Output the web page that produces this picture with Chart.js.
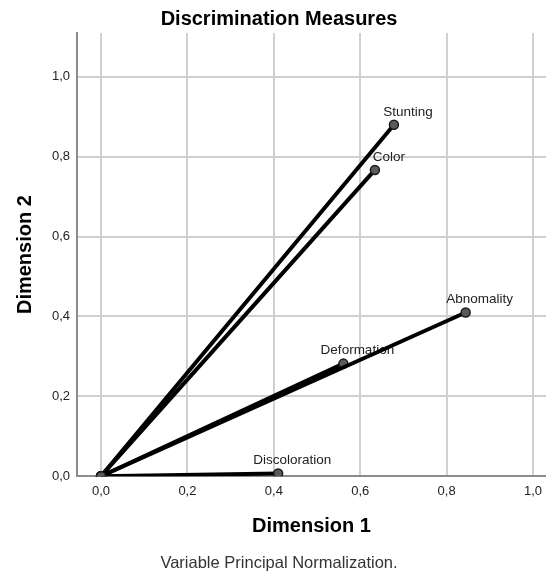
<!DOCTYPE html>
<html>
<head>
<meta charset="utf-8">
<script src="https://cdn.jsdelivr.net/npm/chart.js@4.4.0/dist/chart.umd.min.js"></script>
<style>
    html, body { margin: 0; padding: 0; background: #fff; overflow: hidden; }
    #chartBox { width: 546px; height: 573px; }
</style>
</head>
<body>
<div id="chartBox"><canvas id="discChart" width="546" height="573"></canvas></div>
<script>
// ========== DATA ==========
const variableNames = ['Stunting', 'Color', 'Abnomality', 'Deformation', 'Discoloration'];
const dimension1 = [0.678, 0.634, 0.844, 0.561, 0.410];
const dimension2 = [0.880, 0.767, 0.410, 0.282, 0.007];
const xTicks = [0, 0.2, 0.4, 0.6, 0.8, 1.0];
const yTicks = [0, 0.2, 0.4, 0.6, 0.8, 1.0];

const FONT = "'Liberation Sans', Arial, sans-serif";

// ========== HELPERS ==========
function formatTick(value) {
    return value.toFixed(1).replace('.', ',');
}

function setTicks(values) {
    return function(scale) {
        scale.ticks = values.map(v => ({ value: v }));
    };
}

// one vector from the origin per variable
const datasets = variableNames.map((name, i) => ({
    label: name,
    data: [{ x: 0, y: 0 }, { x: dimension1[i], y: dimension2[i] }],
    showLine: true,
    borderColor: '#000',
    borderWidth: 4,
    pointRadius: 4.5,
    pointBackgroundColor: '#5a5a5a',
    pointBorderColor: '#1a1a1a',
    pointBorderWidth: 1.5
}));

// ========== POINT LABELS ==========
const pointLabels = {
    id: 'pointLabels',
    beforeDatasetsDraw(chart) {
        const ctx = chart.ctx;
        ctx.save();
        ctx.font = '13.5px ' + FONT;
        ctx.fillStyle = '#222';
        ctx.textAlign = 'center';
        ctx.textBaseline = 'middle';
        chart.data.datasets.forEach((ds, i) => {
            const pt = chart.getDatasetMeta(i).data[1];
            ctx.fillText(ds.label, pt.x + 14, pt.y - 13);
        });
        ctx.restore();
    }
};

// ========== CHART ==========
new Chart(document.getElementById('discChart'), {
    type: 'scatter',
    data: { datasets: datasets },
    plugins: [pointLabels],
    options: {
        responsive: false,
        animation: false,
        layout: {
            autoPadding: false,
            padding: { left: 12, right: 0, top: 0, bottom: 0 }
        },
        plugins: {
            legend: { display: false },
            tooltip: { enabled: false },
            title: {
                display: true,
                text: 'Discrimination Measures',
                color: '#000',
                font: { family: FONT, size: 20, weight: 'bold' },
                padding: { top: 7, bottom: 2 }
            },
            subtitle: {
                display: true,
                position: 'bottom',
                text: 'Variable Principal Normalization.',
                color: '#333',
                font: { family: FONT, size: 16.5 },
                padding: { top: 15, bottom: 0 }
            }
        },
        scales: {
            x: {
                type: 'linear',
                min: -0.0556,
                max: 1.03,
                afterBuildTicks: setTicks(xTicks),
                afterFit: s => {
                    s.height = 62;
                    s.paddingLeft = 0;
                    s.paddingRight = 0;
                },
                grid: { color: '#d0d0d0', lineWidth: 2, drawTicks: false },
                border: { color: '#8c8c8c', width: 2 },
                ticks: {
                    padding: 7,
                    color: '#222',
                    font: { family: FONT, size: 13 },
                    callback: v => formatTick(v)
                },
                title: {
                    display: true,
                    text: 'Dimension 1',
                    color: '#000',
                    font: { family: FONT, size: 20, weight: 'bold' },
                    padding: { top: 15, bottom: 0 }
                }
            },
            y: {
                type: 'linear',
                min: 0,
                max: 1.11,
                afterBuildTicks: setTicks(yTicks),
                afterFit: s => {
                    s.width = 65;
                    s.paddingTop = 0;
                    s.paddingBottom = 0;
                },
                grid: { color: '#d0d0d0', lineWidth: 2, drawTicks: false },
                border: { color: '#8c8c8c', width: 2 },
                ticks: {
                    padding: 7,
                    color: '#222',
                    font: { family: FONT, size: 13 },
                    callback: v => formatTick(v)
                },
                title: {
                    display: true,
                    text: 'Dimension 2',
                    color: '#000',
                    font: { family: FONT, size: 20, weight: 'bold' },
                    padding: { top: 1, bottom: 0 }
                }
            }
        }
    }
});
</script>
</body>
</html>
